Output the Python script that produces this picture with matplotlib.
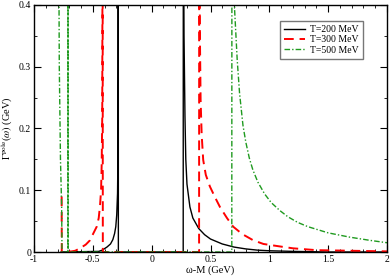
"""
Pole width Gamma^pole(omega) vs omega-M for three temperatures.
Values read off the reference figure (off-scale spikes set to 0.6, clipped).
"""

import matplotlib
matplotlib.use("Agg")
import matplotlib.pyplot as plt
from matplotlib.ticker import MultipleLocator

# ---------------------------------------------------------------------------
# DATA
# ---------------------------------------------------------------------------

LABELS = ["T=200 MeV", "T=300 MeV", "T=500 MeV"]

# T = 200 MeV (black, solid)
W_200 = [-0.77, -0.45, -0.42, -0.38, -0.35, -0.33, -0.315, -0.305, -0.297,
         -0.29, -0.287, -0.285, -0.284, -0.283,
         0.268, 0.269, 0.275, 0.283, 0.29, 0.30, 0.325, 0.35, 0.40, 0.45,
         0.50, 0.60, 0.70, 0.80, 0.90, 1.00, 1.20, 1.50, 2.00]
G_200 = [0.0, 0.001, 0.003, 0.008, 0.013, 0.020, 0.030, 0.041, 0.060,
         0.095, 0.15, 0.30, 0.60, 0.0,
         0.0, 0.60, 0.35, 0.22, 0.15, 0.11, 0.073, 0.055, 0.038, 0.028,
         0.021, 0.013, 0.008, 0.005, 0.003, 0.002, 0.001, 0.0, 0.0]

# T = 300 MeV (red, dashed)
W_300 = [-0.765, -0.764, -0.68, -0.65, -0.609, -0.56, -0.524, -0.496, -0.467,
         -0.45, -0.439, -0.43, -0.425, -0.42, -0.417, -0.415,
         0.403, 0.404, 0.41, 0.416, 0.425, 0.438, 0.46, 0.495, 0.54, 0.58,
         0.64, 0.693, 0.77, 0.863, 0.95, 1.09, 1.20, 1.40, 1.70, 2.00]
G_300 = [0.09, 0.0, 0.001, 0.002, 0.006, 0.012, 0.019, 0.030, 0.041,
         0.055, 0.075, 0.10, 0.14, 0.22, 0.60, 0.0,
         0.0, 0.60, 0.35, 0.246, 0.19, 0.149, 0.125, 0.106, 0.088, 0.073,
         0.055, 0.041, 0.029, 0.019, 0.013, 0.009, 0.006, 0.003, 0.002, 0.001]

# T = 500 MeV (green, dash-dot)
W_500 = [-0.792, -0.785, -0.775, -0.765, -0.762, -0.712, -0.711, -0.710,
         0.681, 0.682, 0.705, 0.727, 0.747, 0.776, 0.80, 0.83, 0.86, 0.903,
         0.96, 1.016, 1.09, 1.158, 1.24, 1.328, 1.50, 1.685, 1.85, 2.00]
G_500 = [0.60, 0.30, 0.15, 0.073, 0.0, 0.0, 0.60, 0.0,
         0.0, 0.60, 0.392, 0.311, 0.257, 0.205, 0.178, 0.152, 0.133, 0.113,
         0.094, 0.080, 0.067, 0.057, 0.048, 0.041, 0.031, 0.024, 0.019, 0.015]

# ---------------------------------------------------------------------------
# PLOT
# ---------------------------------------------------------------------------

plt.rcParams["font.family"] = ["Liberation Serif", "DejaVu Serif"]
plt.rcParams["mathtext.fontset"] = "stix"
plt.rcParams["axes.unicode_minus"] = False

fig = plt.figure(figsize=(3.9, 2.76), dpi=100)
ax = fig.add_axes([34 / 390, 24 / 276, 353 / 390, 247 / 276])

ax.plot(W_200, G_200, color="black", lw=1.0, label=LABELS[0])
ax.plot(W_300, G_300, color="#ff0000", lw=1.4, dashes=(5, 3), label=LABELS[1])
ax.plot(W_500, G_500, color="#1f9a1f", lw=1.0, dashes=(4, 1.5, 1, 1.5),
        label=LABELS[2])

ax.set_xlim(-1, 2)
ax.set_ylim(0, 0.4)
ax.xaxis.set_major_locator(MultipleLocator(0.5))
ax.xaxis.set_minor_locator(MultipleLocator(0.1))
ax.yaxis.set_major_locator(MultipleLocator(0.1))
ax.yaxis.set_minor_locator(MultipleLocator(0.05))
ax.xaxis.set_major_formatter(plt.FuncFormatter(lambda v, p: f"{v:g}"))
ax.yaxis.set_major_formatter(plt.FuncFormatter(lambda v, p: f"{v:g}"))
ax.tick_params(which="both", direction="in", top=True, right=True,
               labelsize=7, pad=2)
ax.tick_params(which="major", length=5, width=0.8)
ax.tick_params(which="minor", length=2.5, width=0.6)
for s in ax.spines.values():
    s.set_linewidth(1.0)

ax.set_xlabel("ω-M (GeV)", fontsize=7.5, labelpad=1)
ax.set_ylabel(r"$\Gamma^{\rm pole}(\omega)$ (GeV)", fontsize=7.5, labelpad=3)

leg = ax.legend(loc="upper left", bbox_to_anchor=(0.697, 0.935), fontsize=7,
                frameon=True, fancybox=False, handlelength=2.2,
                borderpad=0.4, labelspacing=0.15, handletextpad=0.5,
                borderaxespad=0)
leg.get_frame().set_edgecolor("#555555")
leg.get_frame().set_linewidth(1.0)

fig.savefig("out.png", dpi=100)
